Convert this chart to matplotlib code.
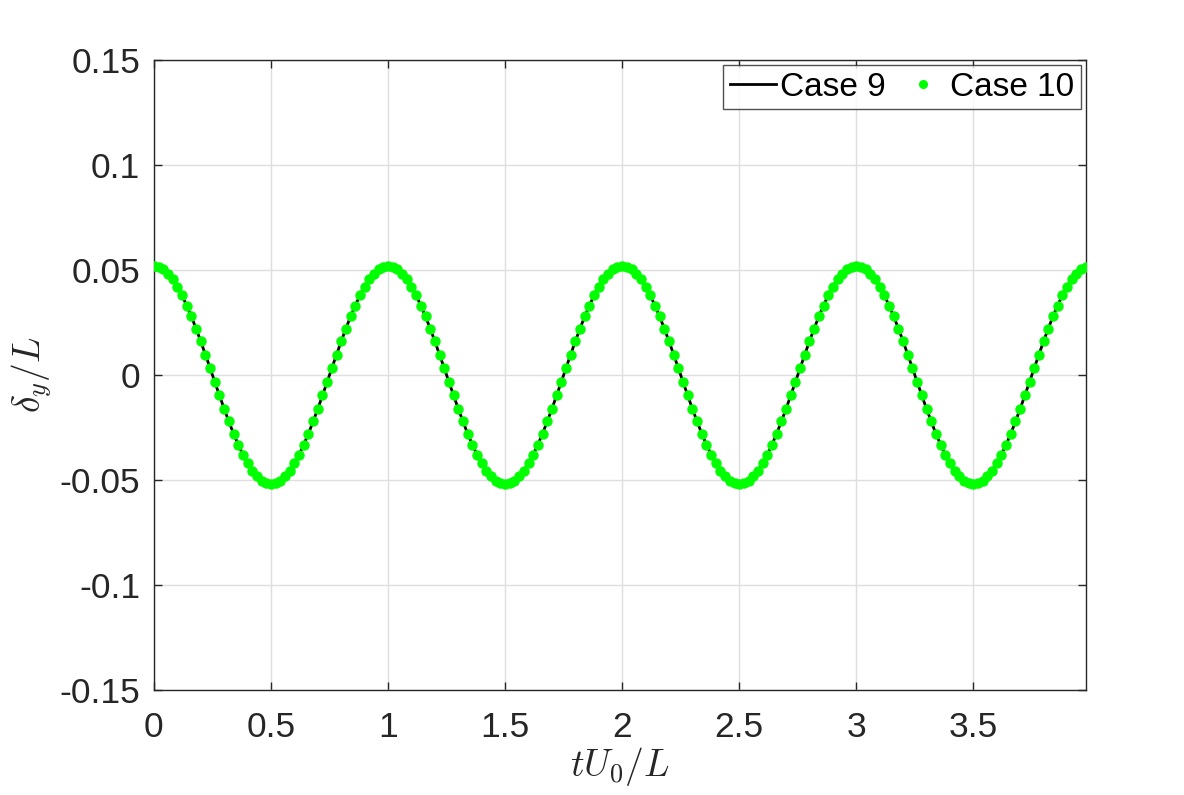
import numpy as np
import matplotlib
matplotlib.use("Agg")
import matplotlib.pyplot as plt

# time axis, tU0/L
t_vals = np.arange(200) * 0.02

# delta_y/L, one row per half period (25 pts)
dy_vals = [
    0.0520, 0.0516, 0.0504, 0.0483, 0.0456, 0.0421, 0.0379, 0.0331, 0.0279, 0.0221, 0.0161, 0.0097, 0.0033,
    -0.0033, -0.0097, -0.0161, -0.0221, -0.0279, -0.0331, -0.0379, -0.0421, -0.0456, -0.0483, -0.0504, -0.0516,
    -0.0520, -0.0516, -0.0504, -0.0483, -0.0456, -0.0421, -0.0379, -0.0331, -0.0279, -0.0221, -0.0161, -0.0097, -0.0033,
    0.0033, 0.0097, 0.0161, 0.0221, 0.0279, 0.0331, 0.0379, 0.0421, 0.0456, 0.0483, 0.0504, 0.0516,
    0.0520, 0.0516, 0.0504, 0.0483, 0.0456, 0.0421, 0.0379, 0.0331, 0.0279, 0.0221, 0.0161, 0.0097, 0.0033,
    -0.0033, -0.0097, -0.0161, -0.0221, -0.0279, -0.0331, -0.0379, -0.0421, -0.0456, -0.0483, -0.0504, -0.0516,
    -0.0520, -0.0516, -0.0504, -0.0483, -0.0456, -0.0421, -0.0379, -0.0331, -0.0279, -0.0221, -0.0161, -0.0097, -0.0033,
    0.0033, 0.0097, 0.0161, 0.0221, 0.0279, 0.0331, 0.0379, 0.0421, 0.0456, 0.0483, 0.0504, 0.0516,
    0.0520, 0.0516, 0.0504, 0.0483, 0.0456, 0.0421, 0.0379, 0.0331, 0.0279, 0.0221, 0.0161, 0.0097, 0.0033,
    -0.0033, -0.0097, -0.0161, -0.0221, -0.0279, -0.0331, -0.0379, -0.0421, -0.0456, -0.0483, -0.0504, -0.0516,
    -0.0520, -0.0516, -0.0504, -0.0483, -0.0456, -0.0421, -0.0379, -0.0331, -0.0279, -0.0221, -0.0161, -0.0097, -0.0033,
    0.0033, 0.0097, 0.0161, 0.0221, 0.0279, 0.0331, 0.0379, 0.0421, 0.0456, 0.0483, 0.0504, 0.0516,
    0.0520, 0.0516, 0.0504, 0.0483, 0.0456, 0.0421, 0.0379, 0.0331, 0.0279, 0.0221, 0.0161, 0.0097, 0.0033,
    -0.0033, -0.0097, -0.0161, -0.0221, -0.0279, -0.0331, -0.0379, -0.0421, -0.0456, -0.0483, -0.0504, -0.0516,
    -0.0520, -0.0516, -0.0504, -0.0483, -0.0456, -0.0421, -0.0379, -0.0331, -0.0279, -0.0221, -0.0161, -0.0097, -0.0033,
    0.0033, 0.0097, 0.0161, 0.0221, 0.0279, 0.0331, 0.0379, 0.0421, 0.0456, 0.0483, 0.0504, 0.0516,
]

x_ticks = [0, 0.5, 1, 1.5, 2, 2.5, 3, 3.5]
x_ticklabels = ["0", "0.5", "1", "1.5", "2", "2.5", "3", "3.5"]
y_ticks = [-0.15, -0.1, -0.05, 0, 0.05, 0.1, 0.15]
y_ticklabels = ["-0.15", "-0.1", "-0.05", "0", "0.05", "0.1", "0.15"]

plt.rcParams['font.family'] = ['Liberation Sans', 'DejaVu Sans']
plt.rcParams['mathtext.fontset'] = 'cm'

fig = plt.figure(figsize=(11.84, 7.95), dpi=100)
ax = fig.add_axes([0.130, 0.132, 0.787, 0.7925])

ax.plot(t_vals, dy_vals, color='black', lw=2, label='Case 9', zorder=2)
ax.plot(t_vals, dy_vals, ls='none', marker='o', ms=6.5, color='#00ff00', label='Case 10', zorder=3)

ax.set_xlim(0, t_vals[-1])
ax.set_ylim(-0.15, 0.15)
ax.set_xticks(x_ticks)
ax.set_xticklabels(x_ticklabels)
ax.set_yticks(y_ticks)
ax.set_yticklabels(y_ticklabels)

ax.grid(True, color='#dedede', lw=1)
ax.set_axisbelow(True)
ax.tick_params(direction='in', top=True, right=True, length=6, width=1,
               labelsize=25.5, colors='#262626')
ax.tick_params(axis='y', pad=10)
ax.tick_params(axis='x', pad=15)
for sp in ax.spines.values():
    sp.set_color('#262626')
    sp.set_linewidth(1)

ax.set_xlabel(r'$tU_0/L$', fontsize=27, color='#262626', labelpad=1)
ax.set_ylabel(r'$\delta_y/L$', fontsize=27, color='#262626', labelpad=4)

leg = ax.legend(loc='upper right', ncol=2, fontsize=24, frameon=True, fancybox=False,
                edgecolor='#262626', borderpad=0.2, handlelength=1.4, handletextpad=0.12,
                columnspacing=0.4, borderaxespad=0.15, markerscale=0.85)
leg.get_frame().set_linewidth(1)

fig.savefig("out.png", dpi=100)
